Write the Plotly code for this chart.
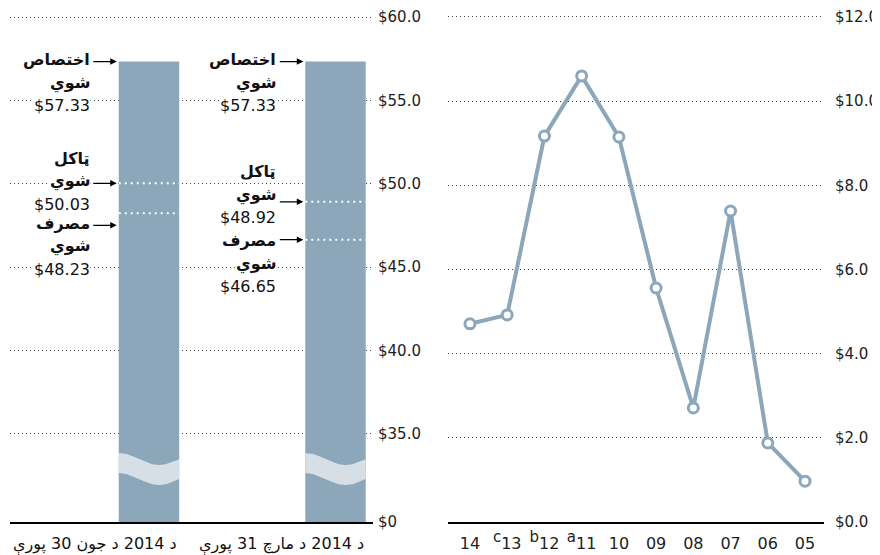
import numpy as np
import plotly.graph_objects as go

# left panel: cumulative funding, $ billions
bar_dates = ["د 2014 د جون 30 پورې", "د 2014 د مارچ 31 پورې"]
appropriated = [57.33, 57.33]
obligated = [50.03, 48.92]
disbursed = [48.23, 46.65]
left_ticks = [35, 40, 45, 50, 55, 60]

# right panel: annual appropriations, $ billions
SUP = "<sup><span style='font-size:15px'>{}</span></sup>"
years = ["14", SUP.format("c") + "13", SUP.format("b") + "12", SUP.format("a") + "11",
         "10", "09", "08", "07", "06", "05"]
yearly = [4.71, 4.92, 9.17, 10.6, 9.15, 5.56, 2.71, 7.39, 1.88, 0.97]
right_ticks = [0, 2, 4, 6, 8, 10, 12]

BAR = "#8ca6ba"
WAVE = "#d6dee6"
FONT = "DejaVu Sans"

# the page body has an 8px margin, so the figure is sized to fill the rest
PAD = 8
W, H = 880 - PAD, 555 - PAD


def px(x):
    return (x - PAD) / W


def py(y):
    return 1 - (y - PAD) / H


# axis break: $0 is drawn here on the left panel
BREAK = 29.72
BAR_W = 0.324

fig = go.Figure()

xs = list(range(len(bar_dates)))
fig.add_trace(go.Bar(
    x=xs, y=[v - BREAK for v in appropriated], base=BREAK, width=BAR_W,
    marker=dict(color=BAR, line=dict(width=0)), hoverinfo="skip",
))

# white dotted lines for obligated / disbursed
for i in xs:
    for v in (obligated[i], disbursed[i]):
        fig.add_trace(go.Scatter(
            x=[i - BAR_W / 2, i + BAR_W / 2], y=[v, v], mode="lines",
            line=dict(color="white", width=2, dash="2px,4px"), hoverinfo="skip",
        ))

# break wave on each bar
t = np.linspace(0, 1, 60)
for i in xs:
    wx = i - BAR_W / 2 + BAR_W * t
    top = 33.5 + 0.36 * np.cos(1.5 * np.pi * t)
    bot = top - 1.2
    fig.add_trace(go.Scatter(
        x=np.concatenate([wx, wx[::-1]]), y=np.concatenate([top, bot[::-1]]),
        mode="lines", fill="toself", fillcolor=WAVE, line=dict(width=0),
        hoverinfo="skip",
    ))

fig.add_trace(go.Scatter(
    x=years, y=yearly, xaxis="x2", yaxis="y2", mode="lines+markers",
    line=dict(color=BAR, width=4),
    marker=dict(symbol="circle", size=10, color="white", line=dict(color=BAR, width=3)),
    hoverinfo="skip",
))

ydom = [py(522), py(14)]
grid = dict(showgrid=True, gridcolor="#444", gridwidth=1, griddash="1px,3px")

fig.update_layout(
    width=W, height=H, margin=dict(l=0, r=0, t=0, b=0, autoexpand=False),
    paper_bgcolor="white", plot_bgcolor="white", showlegend=False,
    font=dict(family=FONT, size=15, color="#222"),
    xaxis=dict(domain=[px(10), px(373)], range=[-0.745, 1.201], showline=True,
               linecolor="black", linewidth=2, showticklabels=False,
               showgrid=False, zeroline=False, automargin=False),
    yaxis=dict(domain=ydom, range=[BREAK, 60.18], side="right", anchor="x",
               tickvals=[BREAK] + left_ticks,
               ticktext=["$0"] + [f"${v:.1f}" for v in left_ticks],
               ticks="", ticklabelstandoff=4, zeroline=False, showline=False,
               automargin=False, **grid),
    xaxis2=dict(domain=[px(448), px(824)], range=[-0.59, 9.51], type="category",
                anchor="y2", showline=True, linecolor="black", linewidth=2,
                showgrid=False, zeroline=False, ticks="", automargin=False,
                ticklabelstandoff=6, tickfont=dict(size=16)),
    yaxis2=dict(domain=ydom, range=[0, 12.071], side="right", anchor="x2",
                tickvals=right_ticks, ticktext=[f"${v:.1f}" for v in right_ticks],
                ticks="", ticklabelstandoff=10, zeroline=False, showline=False,
                automargin=False, **grid),
)

# labels with arrows next to each bar; k = which text line the arrow points from
labels = [
    ("اختصاص", appropriated, 0),
    ("ټاکل", obligated, 1),
    ("مصرف", disbursed, 0),
]
# pixel nudges where labels would collide: (arrow, text)
nudge = {(0, "مصرف"): (-12, -12), (1, "ټاکل"): (0, 5), (1, "مصرف"): (0, -3)}
LINE_H = 23
for i in xs:
    for word, vals, k in labels:
        v = vals[i]
        da, dt = nudge.get((i, word), (0, 0))
        left = i - BAR_W / 2
        fig.add_annotation(
            x=left, y=v, xref="x", yref="y", text="", showarrow=True,
            ax=-27, ay=0, arrowhead=2, arrowsize=1, arrowwidth=1.3,
            arrowcolor="black", standoff=2, yshift=da,
        )
        lines = [f"<b>{word}</b>", "<b>شوي</b>", f"${v:.2f}"]
        for j, txt in enumerate(lines):
            fig.add_annotation(
                x=left, y=v, xref="x", yref="y", showarrow=False, text=txt,
                xanchor="right", xshift=-28, yanchor="middle",
                yshift=dt + 2 - (j - k) * LINE_H, borderpad=0,
                bgcolor="white", font=dict(size=16, color="#111"),
            )
    fig.add_annotation(
        x=i + BAR_W / 2, y=BREAK, xref="x", yref="y", showarrow=False,
        text=bar_dates[i], xanchor="right", yanchor="top", yshift=-10,
        font=dict(size=16, color="#111"),
    )

fig.write_html("out.html")
